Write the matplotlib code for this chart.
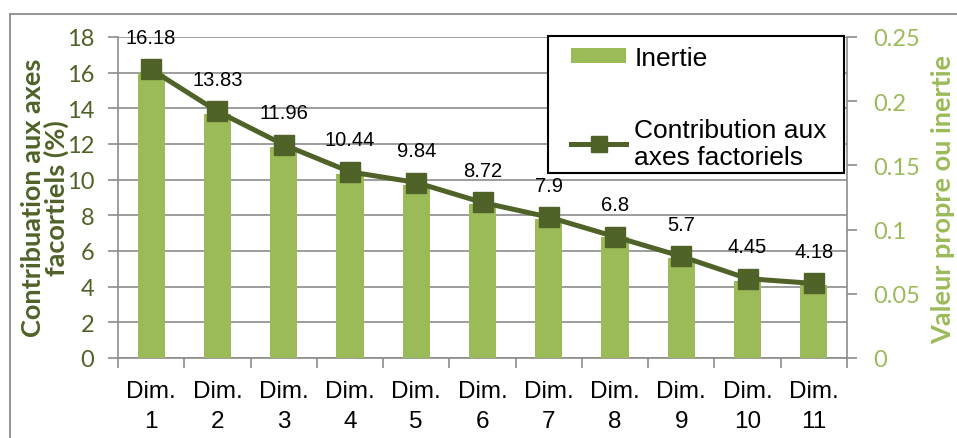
import matplotlib.pyplot as plt
from matplotlib.lines import Line2D
from matplotlib.patches import Rectangle

dims = ["Dim.\n1", "Dim.\n2", "Dim.\n3", "Dim.\n4", "Dim.\n5", "Dim.\n6",
        "Dim.\n7", "Dim.\n8", "Dim.\n9", "Dim.\n10", "Dim.\n11"]
contribution = [16.18, 13.83, 11.96, 10.44, 9.84, 8.72, 7.9, 6.8, 5.7, 4.45, 4.18]
inertie = [0.222, 0.190, 0.164, 0.143, 0.135, 0.120, 0.108, 0.094, 0.078, 0.060, 0.057]

dark = "#4F6228"
light = "#9BBB59"
gris = "#8C8C8C"

W, H = 957, 439
fig = plt.figure(figsize=(W / 100, H / 100), dpi=100)
x = list(range(len(dims)))

# axe gauche : grille + graduations de la contribution
ax = fig.add_axes([118 / W, 1 - 359 / H, (847 - 118) / W, (359 - 38) / H])
ax.set_xlim(-0.5, len(dims) - 0.5)
ax.set_ylim(0, 18)
ax.set_yticks(range(0, 19, 2))
ax.grid(axis="y", color=gris, linewidth=1.2)
ax.set_axisbelow(True)
for s in ["top", "right"]:
    ax.spines[s].set_visible(False)
ax.spines["left"].set_color(gris)
ax.spines["bottom"].set_color(gris)
ax.spines["left"].set_linewidth(1.2)
ax.spines["bottom"].set_linewidth(1.2)
ax.tick_params(axis="y", colors=gris, labelcolor=dark, length=7, width=1.2, pad=10,
               labelsize=17)
for t in ax.get_yticklabels():
    t.set_family("Lato")

# graduations x aux limites, libellés au centre
ax.set_xticks([i - 0.5 for i in range(len(dims) + 1)])
ax.set_xticklabels([])
ax.set_xticks(x, minor=True)
ax.set_xticklabels(dims, minor=True, fontsize=17.5, family="Liberation Sans",
                   linespacing=1.45)
ax.tick_params(axis="x", which="major", colors=gris, length=7, width=1.2)
ax.tick_params(axis="x", which="minor", length=0, pad=16)

# axe droit : barres d'inertie
ax2 = ax.twinx()
ax2.set_ylim(0, 0.25)
ax2.set_yticks([0, 0.05, 0.1, 0.15, 0.2, 0.25])
ax2.set_yticklabels(["0", "0.05", "0.1", "0.15", "0.2", "0.25"])
ax2.bar(x, inertie, width=0.41, color=light, label="Inertie")
for s in ["top", "left", "bottom"]:
    ax2.spines[s].set_visible(False)
ax2.spines["right"].set_color(gris)
ax2.spines["right"].set_linewidth(1.2)
ax2.tick_params(axis="y", colors=gris, labelcolor=light, length=7, width=1.2, pad=12,
                labelsize=17)
for t in ax2.get_yticklabels():
    t.set_family("Lato")

# courbe de contribution par-dessus les barres
ax3 = ax.twinx()
ax3.set_ylim(ax.get_ylim())
ax3.axis("off")
ax3.plot(x, contribution, color=dark, linewidth=3.6, marker="s", markersize=14,
         label="Contribution aux\naxes factoriels")
for xi, v in zip(x, contribution):
    ax3.annotate(f"{v:g}", (xi, v), xytext=(0, 23), textcoords="offset points",
                 ha="center", va="center", fontsize=14.5, family="Liberation Sans")

# légende : cadre dessiné à part pour avoir plus de marge à gauche/droite
ax3.add_patch(Rectangle((548 / W, 1 - 174 / H), (844 - 548) / W, (174 - 37) / H,
                        transform=fig.transFigure, facecolor="white",
                        edgecolor="black", linewidth=1.5, zorder=4.9, clip_on=False))
h2, l2 = ax2.get_legend_handles_labels()
h3, l3 = ax3.get_legend_handles_labels()
leg = ax3.legend(h2 + h3, l2 + l3, loc="upper left",
                 bbox_to_anchor=(571 / W, 1 - 47 / H), bbox_transform=fig.transFigure,
                 borderaxespad=0, frameon=False,
                 prop={"family": "Liberation Sans", "size": 19},
                 handlelength=2.1, handleheight=0.5, handletextpad=0.3,
                 labelspacing=1.8, borderpad=0, markerscale=0.85)

fig.text(45 / W, 1 - 198 / H, "Contribuation aux axes\nfacortiels (%)", rotation=90,
         ha="center", va="center", fontsize=19.5, fontweight="bold", color=dark,
         family="Lato", linespacing=0.95)
fig.text(943 / W, 1 - 200 / H, "Valeur propre ou inertie", rotation=90,
         ha="center", va="center", fontsize=19.5, fontweight="bold", color=light,
         family="Lato")

# cadre du graphique
fig.add_artist(Line2D([10 / W, 10 / W], [0, 1 - 15 / H], color=gris, linewidth=1.3))
fig.add_artist(Line2D([10 / W, 1], [1 - 15 / H, 1 - 15 / H], color=gris, linewidth=1.3))

fig.savefig("out.png", dpi=100)
